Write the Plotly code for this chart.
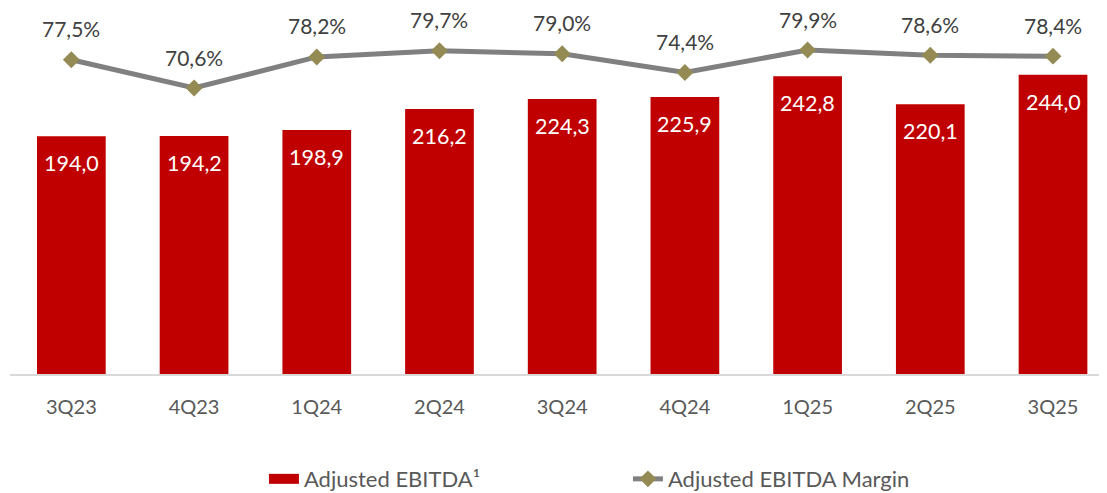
import plotly.graph_objects as go

quarters = ["3Q23", "4Q23", "1Q24", "2Q24", "3Q24", "4Q24", "1Q25", "2Q25", "3Q25"]
ebitda = [194.0, 194.2, 198.9, 216.2, 224.3, 225.9, 242.8, 220.1, 244.0]
margin = [77.5, 70.6, 78.2, 79.7, 79.0, 74.4, 79.9, 78.6, 78.4]

BAR_NAME = "Adjusted EBITDA¹"
LINE_NAME = "Adjusted EBITDA Margin"

def br(v, suffix=""):
    return f"{v:.1f}".replace(".", ",") + suffix

FONT = "Lato"
fig = go.Figure()
fig.add_trace(go.Bar(
    x=quarters, y=ebitda, name=BAR_NAME, showlegend=False,
    marker=dict(color="#C00000", line=dict(width=0)), width=0.56,
    yaxis="y",
))
# legend-only entry giving the wide red swatch
fig.add_trace(go.Scatter(
    x=[None], y=[None], name=BAR_NAME, mode="lines",
    line=dict(color="#C00000", width=14), yaxis="y",
))
fig.add_trace(go.Scatter(
    x=quarters, y=margin, name=LINE_NAME,
    mode="lines+markers",
    line=dict(color="#808080", width=5),
    marker=dict(symbol="diamond", size=13, color="#948A54"),
    yaxis="y2",
))

ann = []
for q, v in zip(quarters, ebitda):
    ann.append(dict(x=q, y=v, xref="x", yref="y", text=br(v), showarrow=False,
                    yshift=-27, font=dict(family=FONT, size=21.5, color="white")))
for q, v in zip(quarters, margin):
    ann.append(dict(x=q, y=v, xref="x", yref="y2", text=br(v, "%"), showarrow=False,
                    yshift=31, font=dict(family=FONT, size=21, color="#404040")))

fig.update_layout(
    width=1099, height=485,
    margin=dict(l=2, r=0, t=0, b=119, autoexpand=False),
    paper_bgcolor="white", plot_bgcolor="white",
    font=dict(family=FONT, color="#595959"),
    xaxis=dict(range=[-0.5, 8.44], showgrid=False, showline=True, linecolor="#D9D9D9",
               linewidth=2, ticks="", tickfont=dict(size=20, color="#595959"),
               ticklabelstandoff=14),
    yaxis=dict(range=[0, 298.5], visible=False, showgrid=False),
    yaxis2=dict(range=[0.6, 90.18], overlaying="y", side="right", visible=False, showgrid=False),
    legend=dict(orientation="h", x=0.2315, xanchor="left", y=-0.287, yanchor="middle",
                font=dict(size=22, color="#595959", family=FONT),
                entrywidth=319, entrywidthmode="pixels", itemwidth=30,
                traceorder="normal"),
    annotations=ann,
)
fig.write_html("out.html")
